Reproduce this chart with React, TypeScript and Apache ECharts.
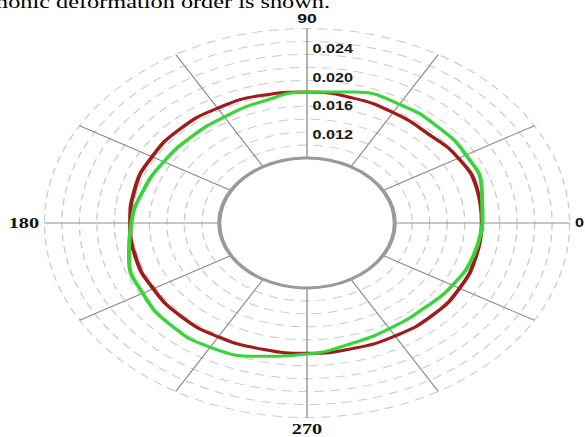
import React, { useEffect, useRef } from "react";
import * as echarts from "echarts";

// Polar sample angles (degrees, counter-clockwise from the right).
const ANGLES = [
  0, 15, 30, 45, 60, 75, 90, 105, 120, 135, 150, 165,
  180, 195, 210, 225, 240, 255, 270, 285, 300, 315, 330, 345, 360,
];

// Radial amplitude of the two deformation modes at each angle.
const RED_MODE = [
  0.01777, 0.0179, 0.01777, 0.01735, 0.01749, 0.01777, 0.01797, 0.01811,
  0.01818, 0.01825, 0.01818, 0.01811, 0.01797, 0.01804, 0.01804, 0.01811,
  0.01804, 0.0179, 0.01788, 0.01784, 0.0179, 0.01797, 0.0179, 0.01777,
  0.01777,
];
const GREEN_MODE = [
  0.01784, 0.01839, 0.01867, 0.01874, 0.01881, 0.0186, 0.01797, 0.01728,
  0.01679, 0.01665, 0.01679, 0.01721, 0.01784, 0.01874, 0.01929, 0.01971,
  0.01971, 0.01895, 0.01797, 0.01714, 0.01672, 0.01665, 0.01707, 0.01749,
  0.01784,
];

// Radial scale: inner hole edge, outer ring, ring spacing and label spacing.
const R_MIN = 0.0088;
const R_MAX = 0.0268;
const RING_STEP = 0.0018;
const LABEL_STEP = 0.004;

// Angle axis tick labels that are printed.
const ANGLE_LABELS = [0, 90, 180, 270];

const CAPTION = "monic deformation order is shown.";

// The plot is drawn as a circle and stretched sideways into an ellipse.
const STRETCH = 1.35;
const CHART_W = 585 / STRETCH;
const CHART_H = 437;
const CENTER = [307 / STRETCH, 223];
const RADII = [65, 194.5];

export default function App() {
  const ref = useRef<HTMLDivElement>(null);

  useEffect(() => {
    if (!ref.current) return;
    const chart = echarts.init(ref.current, null, { renderer: "svg" });
    const hidden = { show: false };
    const pairs = (vals: number[]) => vals.map((v, i) => [v, ANGLES[i]]);

    const sansBold = {
      fontFamily: "Liberation Sans, Arial, sans-serif",
      fontWeight: "bold",
      color: "#111",
    };
    const serifBold = {
      fontFamily: "Liberation Serif, Times New Roman, serif",
      fontWeight: "bold",
      color: "#111",
    };

    chart.setOption({
      animation: false,
      backgroundColor: "#ffffff",
      polar: [
        { center: CENTER, radius: RADII },
        { center: CENTER, radius: RADII },
        { center: CENTER, radius: [0, RADII[0]] },
      ],
      angleAxis: [
        {
          polarIndex: 0,
          type: "value",
          min: 0,
          max: 360,
          interval: 30,
          startAngle: 0,
          clockwise: false,
          axisLine: hidden,
          axisTick: hidden,
          splitLine: { show: true, lineStyle: { color: "#8f8f8f", width: 1 } },
          axisLabel: {
            show: true,
            margin: 4,
            formatter: (v: number) => {
              if (!ANGLE_LABELS.includes(v)) return "";
              if (v === 0) return `{right|${v}}`;
              if (v === 90) return `{top|${v}}`;
              return `{serif|${v}}`;
            },
            rich: {
              right: { ...sansBold, fontSize: 12 },
              top: { ...sansBold, fontSize: 13 },
              serif: { ...serifBold, fontSize: 15 },
            },
          },
        },
        {
          polarIndex: 1,
          type: "value",
          min: 0,
          max: 360,
          startAngle: 90,
          clockwise: false,
          axisLine: hidden,
          axisTick: hidden,
          axisLabel: hidden,
          splitLine: hidden,
        },
        {
          polarIndex: 2,
          type: "value",
          min: 0,
          max: 360,
          startAngle: 0,
          axisLine: { show: true, lineStyle: { color: "#9a9a9a", width: 3 } },
          axisTick: hidden,
          axisLabel: hidden,
          splitLine: hidden,
        },
      ],
      radiusAxis: [
        {
          polarIndex: 0,
          type: "value",
          min: R_MIN,
          max: R_MAX,
          interval: RING_STEP,
          axisLine: hidden,
          axisTick: hidden,
          axisLabel: hidden,
          splitLine: {
            show: true,
            lineStyle: { color: "#cbcbcb", width: 1, type: [7, 5] },
          },
        },
        {
          polarIndex: 1,
          type: "value",
          min: R_MIN,
          max: R_MAX,
          minInterval: LABEL_STEP,
          maxInterval: LABEL_STEP,
          axisLine: hidden,
          axisTick: hidden,
          splitLine: hidden,
          axisLabel: {
            show: true,
            showMinLabel: false,
            showMaxLabel: false,
            margin: -4,
            align: "left",
            verticalAlign: "middle",
            ...sansBold,
            fontSize: 12,
            color: "#1a1a1a",
            formatter: (v: number) => {
              const k = v / LABEL_STEP;
              return Math.abs(k - Math.round(k)) < 1e-6 ? v.toFixed(3) : "";
            },
          },
        },
        {
          polarIndex: 2,
          type: "value",
          axisLine: hidden,
          axisTick: hidden,
          axisLabel: hidden,
          splitLine: hidden,
        },
      ],
      series: [
        {
          name: "mode A",
          type: "line",
          coordinateSystem: "polar",
          polarIndex: 0,
          data: pairs(RED_MODE),
          smooth: 0.5,
          symbol: "none",
          lineStyle: { color: "#9e1c1c", width: 3 },
          z: 3,
        },
        {
          name: "mode B",
          type: "line",
          coordinateSystem: "polar",
          polarIndex: 0,
          data: pairs(GREEN_MODE),
          smooth: 0.5,
          symbol: "none",
          lineStyle: { color: "#3ad43a", width: 3 },
          z: 4,
        },
      ],
      graphic: [
        {
          type: "text",
          x: 330 / STRETCH,
          y: 11,
          style: {
            text: CAPTION,
            font: '18px "Liberation Serif", "Times New Roman", serif',
            fill: "#000",
            align: "right",
            verticalAlign: "bottom",
          },
        },
      ],
    });

    return () => chart.dispose();
  }, []);

  return (
    <div
      style={{
        position: "fixed",
        left: 0,
        top: 0,
        width: 585,
        height: 437,
        overflow: "hidden",
        background: "#fff",
      }}
    >
      <div
        ref={ref}
        style={{
          width: CHART_W,
          height: CHART_H,
          transform: `scaleX(${STRETCH})`,
          transformOrigin: "0 0",
        }}
      />
    </div>
  );
}
